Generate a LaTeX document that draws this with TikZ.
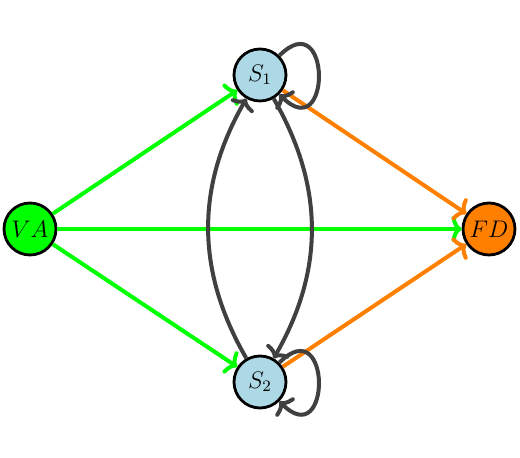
\documentclass[tikz,border=0pt]{standalone}
\usetikzlibrary{arrows.meta}
\definecolor{edgegray}{RGB}{64,64,64}
\definecolor{vagreen}{RGB}{0,255,0}
\definecolor{fdorange}{RGB}{255,128,0}
\definecolor{sblue}{RGB}{173,216,230}
\begin{document}
\begin{tikzpicture}[x=0.5pt,y=-0.5pt,
  state/.style={circle,draw=black,line width=1.4pt,minimum size=26pt,inner sep=0pt,font=\large},
  arr/.style={line width=2pt,-{To[length=5pt,width=13pt]}},
  garr/.style={arr,draw=vagreen},
  oarr/.style={arr,draw=fdorange},
  darr/.style={arr,draw=edgegray}]
\useasboundingbox (0,0) rectangle (520,458);
\node[state,fill=vagreen] (VA) at (30,229) {$VA$};
\node[state,fill=sblue] (S1) at (260,75) {$S_1$};
\node[state,fill=sblue] (S2) at (260,382) {$S_2$};
\node[state,fill=fdorange] (FD) at (489,229) {$FD$};
\draw[garr] (VA) -- (S1);
\draw[garr] (VA) -- (S2);
\draw[garr] (VA) -- (FD);
\draw[oarr] (S1) -- (FD);
\draw[oarr] (S2) -- (FD);
\draw[darr] (S2) to[bend left=30] (S1);
\draw[darr] (S1) to[bend left=30] (S2);
\draw[darr] (S1) to[out=45,in=-45,distance=37pt] (S1);
\draw[darr] (S2) to[out=45,in=-45,distance=37pt] (S2);
\end{tikzpicture}
\end{document}
